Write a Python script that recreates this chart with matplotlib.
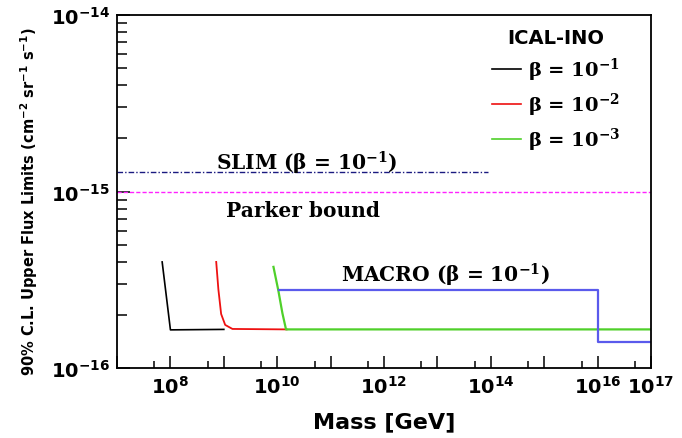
import matplotlib
matplotlib.use('Agg')
import matplotlib.pyplot as plt
from matplotlib.ticker import FixedLocator, FuncFormatter, LogLocator, NullFormatter
from matplotlib.lines import Line2D
import numpy as np

# ICAL-INO limits for three beta values (mass in GeV, flux in cm^-2 sr^-1 s^-1)
black_mass = [7.0e7, 1.0e8, 1.0e9]
black_flux = [4.0e-16, 1.65e-16, 1.66e-16]

red_mass = [7.2e8, 7.9e8, 8.9e8, 1.06e9, 1.45e9, 1.5e10]
red_flux = [4.0e-16, 2.8e-16, 2.03e-16, 1.76e-16, 1.67e-16, 1.66e-16]

green_mass = [8.5e9, 1.05e10, 1.25e10, 1.46e10, 1.0e17]
green_flux = [3.75e-16, 2.75e-16, 2.05e-16, 1.66e-16, 1.66e-16]

# MACRO (beta = 1e-1)
macro_mass = [1.07e10, 1.0e16, 1.0e16, 1.0e17]
macro_flux = [2.78e-16, 2.78e-16, 1.41e-16, 1.41e-16]

# SLIM and Parker bound
slim_mass = [1.0e7, 9.0e13]
slim_flux = [1.29e-15, 1.29e-15]
parker_mass = [1.0e7, 1.0e17]
parker_flux = [1.0e-15, 1.0e-15]

x_labelled = [8, 10, 12, 14, 16, 17]
legend_labels = [r'β = 10$^{-1}$', r'β = 10$^{-2}$', r'β = 10$^{-3}$']

plt.rcParams['font.family'] = 'DejaVu Sans'
plt.rcParams['font.weight'] = 'bold'
plt.rcParams['mathtext.fontset'] = 'dejavusans'
plt.rcParams['mathtext.default'] = 'bf'

fig = plt.figure(figsize=(6.82, 4.39), dpi=100)
ax = fig.add_axes([0.1716, 0.1588, 0.7830, 0.8048])

ax.plot(black_mass, black_flux, color='black', lw=1.2)
ax.plot(red_mass, red_flux, color='#ee1111', lw=1.3)
ax.plot(green_mass, green_flux, color='#4fd02a', lw=1.6)
ax.plot(macro_mass, macro_flux, color='#5a5aec', lw=1.6)
ax.plot(slim_mass, slim_flux, color='#1a1a80', lw=1.0, ls=(0, (4, 1.5, 1, 1.5)))
ax.plot(parker_mass, parker_flux, color='#ff22ff', lw=1.0, ls=(0, (3, 1.5)))

ax.set_xscale('log')
ax.set_yscale('log')
ax.set_xlim(1e7, 1e17)
ax.set_ylim(1e-16, 1e-14)

ax.xaxis.set_major_locator(FixedLocator([10.0 ** k for k in range(7, 18)]))
ax.xaxis.set_major_formatter(FuncFormatter(
    lambda v, p: r'10$^{%d}$' % round(np.log10(v)) if round(np.log10(v)) in x_labelled else ''))
ax.xaxis.set_minor_locator(LogLocator(base=10, subs=[5.0], numticks=30))
ax.xaxis.set_minor_formatter(NullFormatter())
ax.yaxis.set_major_locator(FixedLocator([1e-16, 1e-15, 1e-14]))
ax.yaxis.set_major_formatter(FuncFormatter(lambda v, p: r'10$^{%d}$' % round(np.log10(v))))
ax.yaxis.set_minor_locator(LogLocator(base=10, subs=np.arange(2, 10), numticks=30))
ax.yaxis.set_minor_formatter(NullFormatter())

ax.tick_params(which='both', direction='in', top=False, right=False, width=1.1, labelsize=14)
ax.tick_params(axis='x', which='major', length=9, pad=5)
ax.tick_params(axis='x', which='minor', length=5)
ax.tick_params(axis='y', which='major', length=9, pad=5)
ax.tick_params(axis='y', which='minor', length=7)
for s in ax.spines.values():
    s.set_linewidth(1.3)

ax.set_xlabel('Mass [GeV]', fontsize=16, fontweight='bold', labelpad=10)
ax.set_ylabel(r'90% C.L. Upper Flux Limits (cm$^{-2}$ sr$^{-1}$ s$^{-1}$)', fontsize=10.5,
              fontweight='bold')
ax.yaxis.set_label_coords(-0.145, 0.475)

serif = dict(family='DejaVu Serif', fontweight='bold', fontsize=14.5, math_fontfamily='dejavuserif')
ax.text(3.6e10, 1.47e-15, r'SLIM (β = 10$^{-1}$)', ha='center', va='center', **serif)
ax.text(3.1e10, 7.9e-16, 'Parker bound', ha='center', va='center', **serif)
ax.text(1.4e13, 3.42e-16, r'MACRO (β = 10$^{-1}$)', ha='center', va='center', **serif)

handles = [Line2D([], [], color=c, lw=1.2) for c in ['black', '#ee1111', '#4fd02a']]
leg = ax.legend(handles, legend_labels, loc='upper center', bbox_to_anchor=(0.822, 0.99),
                frameon=False, title='ICAL-INO', handlelength=1.5, handletextpad=0.35,
                labelspacing=0.4, borderpad=0,
                prop=dict(family='DejaVu Serif', weight='bold', size=14),
                title_fontproperties=dict(family='DejaVu Sans', weight='bold', size=14))
leg._legend_box.sep = 6
for t in leg.get_texts():
    t.set_math_fontfamily('dejavuserif')

fig.savefig('out.png', dpi=100)
